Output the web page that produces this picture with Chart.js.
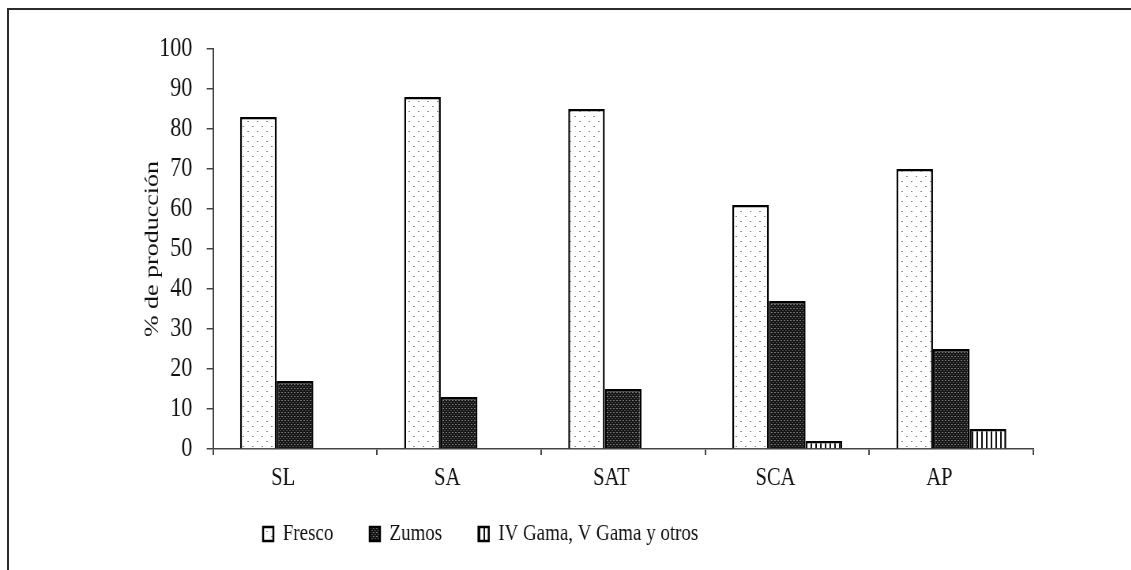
<!DOCTYPE html>
<html lang="es">
<head>
  <meta charset="UTF-8" />
  <title>% de producción</title>
  <script src="https://cdn.jsdelivr.net/npm/chart.js"></script>
  <style>
    html, body { margin: 0; background: #fff; overflow: hidden; }
    #frame { position: absolute; left: 7px; top: 8px; width: 1140px; height: 580px;
             border-top: 2px solid #2b2b2b; border-left: 2px solid #2b2b2b; }
    /* the original figure is squeezed horizontally, so draw wide and scale down */
    #chart { position: absolute; left: 0; top: 0; transform: scaleX(0.79); transform-origin: 0 0; }
  </style>
</head>
<body>
  <div id="frame"></div>
  <canvas id="chart" width="1432" height="570"></canvas>

  <script>
    const categories = ["SL", "SA", "SAT", "SCA", "AP"];
    const fresco = [83, 88, 85, 61, 70];
    const zumos = [17, 13, 15, 37, 25];
    const otros = [0, 0, 0, 2, 5];
    const seriesNames = ["Fresco", "Zumos", "IV Gama, V Gama y otros"];

    const serif = "'Liberation Serif', 'Times New Roman', serif";
    const ctx = document.getElementById("chart").getContext("2d");

    function makePattern(w, h, draw) {
      const c = document.createElement("canvas");
      c.width = w;
      c.height = h;
      draw(c.getContext("2d"));
      return ctx.createPattern(c, "repeat");
    }

    // light dotted fill
    const dotsLight = makePattern(12, 10, g => {
      g.fillStyle = "#fff";
      g.fillRect(0, 0, 12, 10);
      g.fillStyle = "#8a8a8a";
      g.fillRect(1, 1, 2, 1);
      g.fillRect(7, 6, 2, 1);
    });
    // dense dark fill
    const dotsDark = makePattern(4, 4, g => {
      g.fillStyle = "#151515";
      g.fillRect(0, 0, 4, 4);
      g.fillStyle = "#7a7a7a";
      g.fillRect(0, 0, 2, 1);
      g.fillStyle = "#4a4a4a";
      g.fillRect(2, 2, 2, 1);
    });
    // vertical stripes
    const stripes = makePattern(6, 1, g => {
      g.fillStyle = "#fff";
      g.fillRect(0, 0, 6, 1);
      g.fillStyle = "#111";
      g.fillRect(0, 0, 2, 1);
    });

    // legend sits left of centre and lower than chart.js would put it
    const legendPlace = {
      id: "legendPlace",
      afterLayout(chart) {
        chart.legend.left = 287;
        chart.legend.top = 476;
      }
    };

    Chart.defaults.font.family = serif;
    Chart.defaults.font.size = 24;
    Chart.defaults.color = "#111";

    new Chart(ctx, {
      type: "bar",
      data: {
        labels: categories,
        datasets: [
          { label: seriesNames[0], data: fresco, backgroundColor: dotsLight },
          { label: seriesNames[1], data: zumos, backgroundColor: dotsDark },
          { label: seriesNames[2], data: otros, backgroundColor: stripes }
        ].map(d => Object.assign(d, {
          borderColor: "#000",
          borderWidth: 2.5,
          categoryPercentage: 0.67,
          barPercentage: 1
        }))
      },
      options: {
        responsive: false,
        animation: false,
        devicePixelRatio: 1,
        layout: { padding: { left: 158, top: 49, right: 124, bottom: -4 } },
        plugins: {
          tooltip: { enabled: false },
          legend: {
            position: "bottom",
            align: "start",
            labels: { boxWidth: 13, boxHeight: 14, padding: 46, color: "#111", font: { size: 24 } }
          }
        },
        scales: {
          x: {
            grid: { drawOnChartArea: false, drawTicks: true, tickLength: 6, color: "#444", lineWidth: 2 },
            border: { display: true, color: "#444", width: 1.5 },
            ticks: { padding: 8, labelOffset: -15, color: "#111", font: { size: 26 } },
            afterFit(s) { s.height = 45; }
          },
          y: {
            min: 0,
            max: 100,
            ticks: { stepSize: 10, padding: 18, color: "#111", font: { size: 28 } },
            grid: { drawOnChartArea: false, drawTicks: true, tickLength: 8, color: "#444", lineWidth: 1.5 },
            border: { display: true, color: "#444", width: 2 },
            title: { display: true, text: "% de producción", color: "#111", font: { size: 26 }, padding: { top: 20, bottom: 0 } },
            afterFit(s) { s.width = 111.6; }
          }
        }
      },
      plugins: [legendPlace]
    });
  </script>
</body>
</html>
